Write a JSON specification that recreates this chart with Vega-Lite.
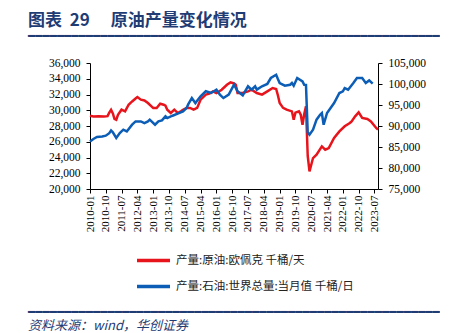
{
  "$schema": "https://vega.github.io/schema/vega-lite/v6.json",
  "padding": {"left": 28, "top": 4, "right": 0, "bottom": 0},
  "background": "white",
  "config": {"view": {"stroke": null}, "font": "Liberation Serif"},
  "spacing": 14,
  "datasets": {
    "opec": [
      {"d": "2010-01", "v": 29300}, {"d": "2010-03", "v": 29200}, {"d": "2010-06", "v": 29250}, {"d": "2010-09", "v": 29200},
      {"d": "2010-11", "v": 29250}, {"d": "2010-12", "v": 29700}, {"d": "2011-01", "v": 30050}, {"d": "2011-02", "v": 29600},
      {"d": "2011-03", "v": 28900}, {"d": "2011-04", "v": 28800}, {"d": "2011-05", "v": 29430}, {"d": "2011-07", "v": 30070},
      {"d": "2011-09", "v": 29850}, {"d": "2011-11", "v": 30700}, {"d": "2012-01", "v": 31120}, {"d": "2012-03", "v": 31500},
      {"d": "2012-04", "v": 31680}, {"d": "2012-06", "v": 31340}, {"d": "2012-08", "v": 31250}, {"d": "2012-10", "v": 30920},
      {"d": "2012-12", "v": 30500}, {"d": "2013-01", "v": 30290}, {"d": "2013-03", "v": 30290}, {"d": "2013-05", "v": 30830},
      {"d": "2013-07", "v": 30700}, {"d": "2013-08", "v": 30580}, {"d": "2013-09", "v": 30070}, {"d": "2013-11", "v": 29650},
      {"d": "2014-01", "v": 30070}, {"d": "2014-03", "v": 29650}, {"d": "2014-05", "v": 29900}, {"d": "2014-06", "v": 30070},
      {"d": "2014-08", "v": 30290}, {"d": "2014-10", "v": 30300}, {"d": "2014-12", "v": 30070}, {"d": "2015-02", "v": 30300},
      {"d": "2015-04", "v": 31340}, {"d": "2015-07", "v": 31980}, {"d": "2015-09", "v": 32100}, {"d": "2015-11", "v": 32400},
      {"d": "2016-01", "v": 32190}, {"d": "2016-04", "v": 32610}, {"d": "2016-07", "v": 33240}, {"d": "2016-09", "v": 33540},
      {"d": "2016-11", "v": 33400}, {"d": "2016-12", "v": 33240}, {"d": "2017-01", "v": 32190}, {"d": "2017-04", "v": 32190},
      {"d": "2017-07", "v": 32400}, {"d": "2017-09", "v": 32610}, {"d": "2017-12", "v": 32190}, {"d": "2018-03", "v": 31980},
      {"d": "2018-06", "v": 32400}, {"d": "2018-09", "v": 32820}, {"d": "2018-11", "v": 32700}, {"d": "2018-12", "v": 31900},
      {"d": "2019-01", "v": 30920}, {"d": "2019-03", "v": 30300}, {"d": "2019-05", "v": 30070}, {"d": "2019-08", "v": 29860},
      {"d": "2019-09", "v": 28790}, {"d": "2019-10", "v": 29700}, {"d": "2019-12", "v": 29860}, {"d": "2020-01", "v": 29430},
      {"d": "2020-02", "v": 28160}, {"d": "2020-03", "v": 29500}, {"d": "2020-04", "v": 30500}, {"d": "2020-05", "v": 24200},
      {"d": "2020-06", "v": 22240}, {"d": "2020-08", "v": 23930}, {"d": "2020-10", "v": 24350}, {"d": "2021-01", "v": 25410},
      {"d": "2021-03", "v": 24990}, {"d": "2021-05", "v": 25200}, {"d": "2021-08", "v": 26480}, {"d": "2021-11", "v": 27320},
      {"d": "2022-02", "v": 27960}, {"d": "2022-05", "v": 28380}, {"d": "2022-06", "v": 28590}, {"d": "2022-08", "v": 29220},
      {"d": "2022-10", "v": 29730}, {"d": "2022-12", "v": 29020}, {"d": "2023-03", "v": 28890}, {"d": "2023-05", "v": 28590},
      {"d": "2023-08", "v": 27750}, {"d": "2023-09", "v": 27530}
    ],
    "world": [
      {"d": "2010-01", "v": 86330}, {"d": "2010-03", "v": 86900}, {"d": "2010-05", "v": 87380}, {"d": "2010-08", "v": 87500},
      {"d": "2010-10", "v": 87690}, {"d": "2010-12", "v": 88300}, {"d": "2011-01", "v": 88950}, {"d": "2011-02", "v": 88500},
      {"d": "2011-04", "v": 87140}, {"d": "2011-06", "v": 88330}, {"d": "2011-08", "v": 89120}, {"d": "2011-10", "v": 88710},
      {"d": "2012-01", "v": 90310}, {"d": "2012-03", "v": 91100}, {"d": "2012-06", "v": 91100}, {"d": "2012-08", "v": 90710},
      {"d": "2012-10", "v": 91100}, {"d": "2012-11", "v": 91500}, {"d": "2013-02", "v": 90310}, {"d": "2013-04", "v": 91100},
      {"d": "2013-06", "v": 91330}, {"d": "2013-08", "v": 92290}, {"d": "2013-09", "v": 91900}, {"d": "2013-12", "v": 92450},
      {"d": "2014-03", "v": 92930}, {"d": "2014-06", "v": 93480}, {"d": "2014-08", "v": 94280}, {"d": "2014-09", "v": 95200},
      {"d": "2014-11", "v": 96660}, {"d": "2015-01", "v": 95470}, {"d": "2015-04", "v": 97070}, {"d": "2015-07", "v": 98270},
      {"d": "2015-10", "v": 97860}, {"d": "2016-01", "v": 98650}, {"d": "2016-03", "v": 97470}, {"d": "2016-05", "v": 96660},
      {"d": "2016-08", "v": 97470}, {"d": "2016-11", "v": 99850}, {"d": "2017-01", "v": 98270}, {"d": "2017-04", "v": 97310},
      {"d": "2017-07", "v": 99460}, {"d": "2017-09", "v": 98650}, {"d": "2017-11", "v": 99460}, {"d": "2017-12", "v": 98650},
      {"d": "2018-03", "v": 99460}, {"d": "2018-06", "v": 100000}, {"d": "2018-08", "v": 101430}, {"d": "2018-11", "v": 102210},
      {"d": "2018-12", "v": 101200}, {"d": "2019-01", "v": 100240}, {"d": "2019-04", "v": 99600}, {"d": "2019-07", "v": 99830},
      {"d": "2019-08", "v": 100230}, {"d": "2019-09", "v": 99590}, {"d": "2019-11", "v": 101430}, {"d": "2020-02", "v": 100620},
      {"d": "2020-03", "v": 99830}, {"d": "2020-04", "v": 99800}, {"d": "2020-05", "v": 88500}, {"d": "2020-06", "v": 87930},
      {"d": "2020-08", "v": 89120}, {"d": "2020-10", "v": 91500}, {"d": "2020-12", "v": 92690}, {"d": "2021-01", "v": 93090},
      {"d": "2021-02", "v": 90310}, {"d": "2021-04", "v": 93090}, {"d": "2021-08", "v": 95470}, {"d": "2021-11", "v": 97860},
      {"d": "2022-01", "v": 98240}, {"d": "2022-02", "v": 99040}, {"d": "2022-04", "v": 98650}, {"d": "2022-07", "v": 100240},
      {"d": "2022-09", "v": 101430}, {"d": "2022-12", "v": 101430}, {"d": "2023-02", "v": 100240}, {"d": "2023-04", "v": 100860},
      {"d": "2023-06", "v": 100070}
    ]
  },
  "vconcat": [
    {
      "width": 288, "height": 1,
      "data": {"values": [{}]},
      "mark": {"type": "point", "opacity": 0},
      "encoding": {},
      "title": {
        "text": "图表\u00a0\u00a029\u3000\u00a0原油产量变化情况", "orient": "bottom", "anchor": "start", "frame": "group", "dx": -62,
        "color": "#1F3C74", "fontSize": 17, "font": "Noto Sans CJK SC", "fontWeight": "bold", "offset": 3, "limit": 1000,
        "subtitle": "━━━━━━━━━━━━━━━━━━━━━━━━━━━━━━━━━━━━━━━━━━━━━━━━━━━━━━━━━",
        "subtitleFont": "DejaVu Sans Mono", "subtitleFontSize": 12, "subtitleFontWeight": "normal", "subtitleColor": "#1F3C74", "subtitlePadding": 1
      }
    },
    {
      "width": 288, "height": 126,
      "title": {
        "text": "━━━━━━━━━━━━━━━━━━━━━━━━━━━━━━━━━━━━━━━━━━━━━━━━━━━━━━━━━",
        "orient": "bottom", "anchor": "start", "frame": "bounds",
        "font": "DejaVu Sans Mono", "fontSize": 12, "fontWeight": "normal", "color": "#1F3C74", "offset": 75,
        "subtitle": "资料来源：wind，华创证券", "subtitleFont": "Noto Sans CJK SC", "subtitleFontStyle": "italic",
        "subtitleFontSize": 13, "subtitleColor": "#1F3C74", "subtitlePadding": 1
      },
      "encoding": {
        "x": {
          "field": "d", "type": "temporal",
          "scale": {"type": "utc", "domain": [{"year": 2010, "month": 1, "date": 1, "utc": true}, {"year": 2023, "month": 9, "date": 1, "utc": true}]},
          "axis": {
            "title": null, "grid": false, "labelExpr": "utcFormat(datum.value, '%Y-%m')", "labelAngle": 270,
            "labelFont": "Liberation Serif", "labelFontSize": 11, "labelColor": "black", "labelPadding": 2,
            "labelOverlap": false, "labelFlush": false, "tickSize": 4, "tickColor": "black", "domainColor": "black",
            "values": [
              {"year": 2010, "month": 1, "date": 1, "utc": true}, {"year": 2010, "month": 10, "date": 1, "utc": true},
              {"year": 2011, "month": 7, "date": 1, "utc": true}, {"year": 2012, "month": 4, "date": 1, "utc": true},
              {"year": 2013, "month": 1, "date": 1, "utc": true}, {"year": 2013, "month": 10, "date": 1, "utc": true},
              {"year": 2014, "month": 7, "date": 1, "utc": true}, {"year": 2015, "month": 4, "date": 1, "utc": true},
              {"year": 2016, "month": 1, "date": 1, "utc": true}, {"year": 2016, "month": 10, "date": 1, "utc": true},
              {"year": 2017, "month": 7, "date": 1, "utc": true}, {"year": 2018, "month": 4, "date": 1, "utc": true},
              {"year": 2019, "month": 1, "date": 1, "utc": true}, {"year": 2019, "month": 10, "date": 1, "utc": true},
              {"year": 2020, "month": 7, "date": 1, "utc": true}, {"year": 2021, "month": 4, "date": 1, "utc": true},
              {"year": 2022, "month": 1, "date": 1, "utc": true}, {"year": 2022, "month": 10, "date": 1, "utc": true},
              {"year": 2023, "month": 7, "date": 1, "utc": true}
            ]
          }
        }
      },
      "layer": [
        {
          "data": {"name": "opec"},
          "mark": {"type": "line", "strokeWidth": 2.5},
          "encoding": {
            "y": {
              "field": "v", "type": "quantitative",
              "scale": {"domain": [20000, 36000], "nice": false, "zero": false},
              "axis": {
                "orient": "left", "title": null, "grid": false, "format": ",d",
                "values": [20000, 22000, 24000, 26000, 28000, 30000, 32000, 34000, 36000],
                "labelFont": "Liberation Serif", "labelFontSize": 11.5, "labelColor": "black", "labelPadding": 6,
                "tickSize": 4, "tickColor": "black", "domainColor": "black", "minExtent": 62
              }
            },
            "color": {
              "datum": "产量:原油:欧佩克 千桶/天", "type": "nominal",
              "scale": {"domain": ["产量:原油:欧佩克 千桶/天", "产量:石油:世界总量:当月值 千桶/日"], "range": ["#E8141C", "#0C5DB5"]},
              "legend": {
                "orient": "none", "legendX": 45, "legendY": 235, "direction": "vertical", "title": null,
                "symbolType": "stroke", "symbolStrokeWidth": 3.5, "symbolSize": 1089,
                "labelFont": "Noto Sans CJK SC", "labelFontSize": 11.5, "labelColor": "#222222",
                "labelOffset": 4, "rowPadding": -12, "labelLimit": 300
              }
            }
          }
        },
        {
          "data": {"name": "world"},
          "mark": {"type": "line", "strokeWidth": 2.5},
          "encoding": {
            "y": {
              "field": "v", "type": "quantitative",
              "scale": {"domain": [75000, 105000], "nice": false, "zero": false},
              "axis": {
                "orient": "right", "title": null, "grid": false, "format": ",d",
                "values": [75000, 80000, 85000, 90000, 95000, 100000, 105000],
                "labelFont": "Liberation Serif", "labelFontSize": 11.5, "labelColor": "black", "labelPadding": 6,
                "tickSize": 4, "tickColor": "black", "domainColor": "black"
              }
            },
            "color": {"datum": "产量:石油:世界总量:当月值 千桶/日", "type": "nominal"}
          }
        }
      ],
      "resolve": {"scale": {"y": "independent"}, "axis": {"y": "independent"}}
    }
  ]
}
